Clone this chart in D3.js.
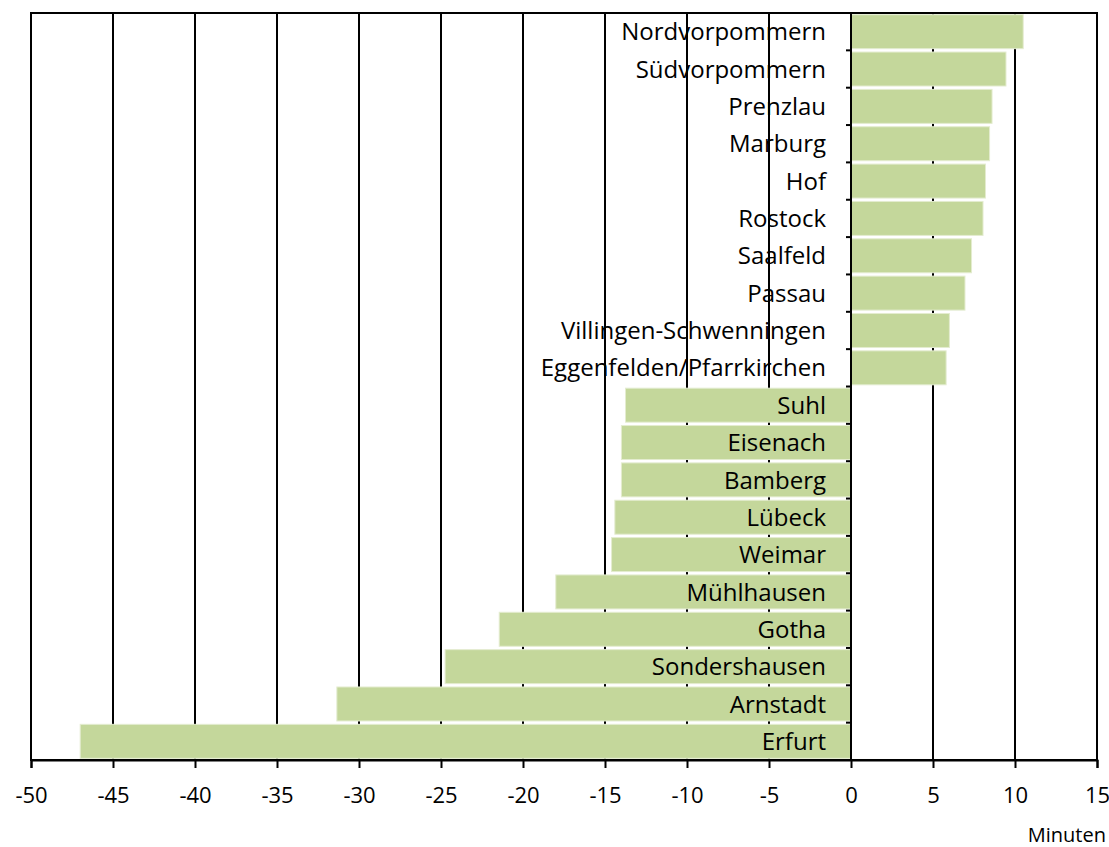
<!DOCTYPE html>
<html><head><meta charset="utf-8">
<script src="https://cdn.jsdelivr.net/npm/d3@7"></script>
<style>html,body{margin:0;padding:0;background:#fff;}svg{display:block;}</style>
</head><body>
<svg id="chart" width="1109" height="847"></svg>
<script>
const categories = ["Nordvorpommern","Südvorpommern","Prenzlau","Marburg","Hof","Rostock","Saalfeld","Passau","Villingen-Schwenningen","Eggenfelden/Pfarrkirchen","Suhl","Eisenach","Bamberg","Lübeck","Weimar","Mühlhausen","Gotha","Sondershausen","Arnstadt","Erfurt"];
const values = [10.5,9.45,8.6,8.45,8.2,8.05,7.35,6.95,6.0,5.8,-13.75,-14.0,-14.0,-14.4,-14.6,-18.0,-21.45,-24.75,-31.35,-47.0];
const xTicks = [-50,-45,-40,-35,-30,-25,-20,-15,-10,-5,0,5,10,15];
const unitLabel = "Minuten";

const svg = d3.select("#chart");
const L = 31, R = 1097, T = 13, B = 760;
const font = "'Open Sans', sans-serif";
const x = d3.scaleLinear().domain([-50,15]).range([L,R]);
const y = d3.scaleBand().domain(categories).range([T,B]).paddingInner(0.09).paddingOuter(0.045);
const yb = d3.scaleBand().domain(categories).range([T,B]);

// gridlines
svg.append("g").selectAll("line").data(xTicks.filter(d=>d>-50 && d<15 && d!==0)).join("line")
  .attr("x1",d=>x(d)).attr("x2",d=>x(d)).attr("y1",T).attr("y2",B)
  .attr("stroke","#000").attr("stroke-width",2);
// frame
svg.append("rect").attr("x",L).attr("y",T).attr("width",R-L).attr("height",B-T)
  .attr("fill","none").attr("stroke","#000").attr("stroke-width",2);

// bars
svg.append("g").selectAll("rect").data(categories).join("rect")
  .attr("x",(d,i)=>x(Math.min(0,values[i])))
  .attr("y",d=>y(d))
  .attr("width",(d,i)=>Math.abs(x(values[i])-x(0)))
  .attr("height",y.bandwidth())
  .attr("fill","#c4d79b")
  .attr("stroke","#e4ecd0").attr("stroke-width",1);

// zero axis with category ticks
const zg = svg.append("g").attr("transform",`translate(${x(0)},0)`);
zg.append("line").attr("x1",0).attr("x2",0).attr("y1",T).attr("y2",B).attr("stroke","#000").attr("stroke-width",2);
zg.selectAll("line.tk").data(d3.range(1,categories.length)).join("line").attr("class","tk")
  .attr("x1",-5).attr("x2",0)
  .attr("y1",i=>yb(categories[i])).attr("y2",i=>yb(categories[i]))
  .attr("stroke","#000").attr("stroke-width",2);

// labels
svg.append("g").selectAll("text").data(categories).join("text")
  .attr("x",x(0)-25).attr("y",d=>y(d)+y.bandwidth()/2)
  .attr("dy","0.36em").attr("text-anchor","end")
  .attr("font-family",font).attr("font-size",24).attr("fill","#000")
  .text(d=>d);

// bottom axis
const xAxis = d3.axisBottom(x).tickValues(xTicks).tickSize(8).tickPadding(19).tickFormat(d=>String(d).replace("−","-"));
const xg = svg.append("g").attr("transform",`translate(0,${B})`).call(xAxis);
xg.select(".domain").attr("stroke","#000").attr("stroke-width",2);
xg.selectAll(".tick line").attr("stroke","#000").attr("stroke-width",2);
xg.selectAll(".tick text").attr("font-family",font).attr("font-size",22).attr("fill","#000");

svg.append("text").attr("x",1106).attr("y",842).attr("text-anchor","end")
  .attr("font-family",font).attr("font-size",20).attr("fill","#000").text(unitLabel);
</script>
</body></html>
